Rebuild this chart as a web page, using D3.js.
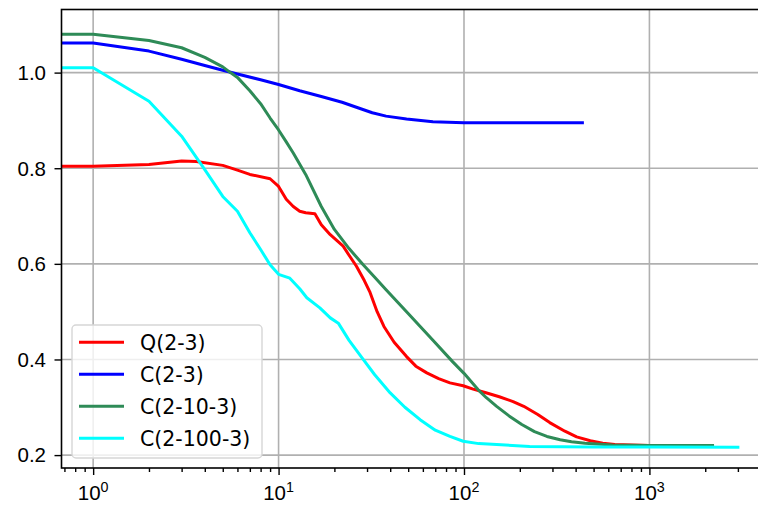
<!DOCTYPE html>
<html>
<head>
<meta charset="utf-8">
<script src="https://cdn.jsdelivr.net/npm/d3@7"></script>
<style>
  body { margin: 0; background: #fff; }
  svg { display: block; font-family: "DejaVu Sans", sans-serif; }
</style>
</head>
<body>
<script>
// series values, [x, y]
var q23 = [[0.5,0.804],[1,0.804],[2,0.808],[3,0.815],[3.6,0.814],[5,0.806],[6,0.796],[7,0.787],[9,0.778],[10,0.762],
  [11,0.735],[12,0.72],[13,0.71],[14,0.707],[15.7,0.705],[17,0.682],[19,0.661],[22.3,0.637],[24,0.618],[26.3,0.595],
  [29,0.565],[31,0.542],[34,0.5],[37,0.469],[42,0.436],[49,0.406],[55,0.386],[63,0.372],[73,0.36],[84,0.351],
  [99,0.345],[112,0.338],[130,0.331],[155,0.322],[184,0.312],[210,0.302],[250,0.285],[290,0.268],[350,0.25],
  [405,0.238],[480,0.23],[560,0.225],[650,0.222],[800,0.221],[1000,0.22],[1300,0.219]];

var c23 = [[0.5,1.062],[1,1.062],[2,1.045],[3,1.028],[4,1.015],[5,1.005],[6,0.997],[8,0.985],[10,0.975],[13,0.962],
  [17,0.95],[22,0.938],[27,0.926],[32,0.916],[38,0.909],[49,0.903],[68,0.897],[100,0.895],[200,0.895],[435,0.895]];

var c2103 = [[0.5,1.08],[1,1.08],[2,1.067],[3,1.052],[4,1.032],[5,1.012],[5.5,1.0],[6,0.99],[7,0.962],[8,0.935],
  [9,0.905],[10,0.88],[11,0.855],[12,0.832],[14,0.787],[17,0.72],[20,0.672],[24,0.632],[28.6,0.598],[33,0.572],
  [38,0.546],[50,0.496],[68,0.44],[87,0.395],[100,0.371],[119,0.337],[132,0.32],[150,0.302],[175,0.282],[205,0.264],
  [240,0.249],[280,0.239],[330,0.232],[380,0.228],[450,0.225],[630,0.221],[1000,0.22],[2190,0.22]];

var c21003 = [[0.5,1.01],[1,1.01],[2,0.94],[3,0.867],[4,0.797],[5,0.741],[6,0.71],[7,0.665],[8,0.63],[9,0.598],
  [10,0.578],[11.5,0.57],[13,0.548],[14.2,0.529],[16.7,0.508],[19,0.487],[21,0.476],[24,0.44],[28.6,0.4],[33,0.368],
  [40,0.33],[48,0.3],[58,0.274],[70,0.252],[84,0.239],[99,0.229],[120,0.224],[150,0.222],[226,0.218],[500,0.217],
  [1000,0.217],[3000,0.2165]];

var seriesNames = ['Q(2-3)', 'C(2-3)', 'C(2-10-3)', 'C(2-100-3)'];
var seriesData = [q23, c23, c2103, c21003];
var seriesColors = ['#ff0000', '#0000ff', '#2e8b57', '#00ffff'];

var xMajor = [1, 10, 100, 1000];
var xExp = ['0', '1', '2', '3'];
var yTicks = [0.2, 0.4, 0.6, 0.8, 1.0];
var yLabels = ['0.2', '0.4', '0.6', '0.8', '1.0'];

var width = 758, height = 505;
var plotL = 61.5, plotT = 9.5, plotR = 770, plotB = 468;
var fontSize = 20.5;

var svg = d3.select('body').append('svg').attr('width', width).attr('height', height);

var x = d3.scaleLog().domain([0.675, 4470]).range([plotL, plotR]);
var y = d3.scaleLinear().domain([0.173, 1.132]).range([plotB, plotT]);

svg.append('clipPath').attr('id', 'plot')
  .append('rect').attr('x', plotL).attr('y', plotT).attr('width', plotR - plotL).attr('height', plotB - plotT);

// grid
svg.append('g').selectAll('line').data(xMajor).enter().append('line')
  .attr('x1', d => x(d)).attr('x2', d => x(d)).attr('y1', plotT).attr('y2', plotB)
  .attr('stroke', '#b0b0b0').attr('stroke-width', 1.6);
svg.append('g').selectAll('line').data(yTicks).enter().append('line')
  .attr('x1', plotL).attr('x2', plotR).attr('y1', d => y(d)).attr('y2', d => y(d))
  .attr('stroke', '#b0b0b0').attr('stroke-width', 1.6);

// lines
var line = d3.line().x(d => x(d[0])).y(d => y(d[1]));
svg.append('g').attr('clip-path', 'url(#plot)').selectAll('path')
  .data(seriesData).enter().append('path')
    .attr('d', line)
    .attr('fill', 'none')
    .attr('stroke', (d, i) => seriesColors[i])
    .attr('stroke-width', 3)
    .attr('stroke-linejoin', 'round')
    .attr('stroke-linecap', 'square');

// axes
var xMinor = [];
[0.1, 1, 10, 100, 1000].forEach(function (dec) {
  for (var k = 2; k <= 9; k++) {
    var v = dec * k;
    if (v > 0.675 && v < 4470) xMinor.push(v);
  }
});

var gx = svg.append('g').attr('transform', 'translate(0,' + plotB + ')');
gx.call(d3.axisBottom(x).tickValues(xMajor).tickSize(7).tickFormat(''));
gx.append('g').call(d3.axisBottom(x).tickValues(xMinor).tickSize(4).tickFormat(''));
gx.selectAll('.domain').remove();
gx.selectAll('line').attr('stroke', '#000').attr('stroke-width', 1.4);

var xl = gx.append('g').selectAll('text').data(xMajor).enter().append('text')
  .attr('x', d => x(d))
  .attr('y', 32)
  .attr('text-anchor', 'middle')
  .attr('fill', '#000')
  .attr('font-size', fontSize);
xl.append('tspan').text('10');
xl.append('tspan').attr('dy', -8.5).attr('font-size', 14.3).text((d, i) => xExp[i]);

var gy = svg.append('g').attr('transform', 'translate(' + plotL + ',0)');
gy.call(d3.axisLeft(y).tickValues(yTicks).tickSize(7).tickFormat(''));
gy.selectAll('.domain').remove();
gy.selectAll('line').attr('stroke', '#000').attr('stroke-width', 1.4);
gy.append('g').selectAll('text').data(yTicks).enter().append('text')
  .attr('x', -15.5)
  .attr('y', d => y(d))
  .attr('dy', '0.36em')
  .attr('text-anchor', 'end')
  .attr('fill', '#000')
  .attr('font-size', fontSize)
  .text((d, i) => yLabels[i]);

// spines
svg.append('rect')
  .attr('x', plotL).attr('y', plotT).attr('width', plotR - plotL).attr('height', plotB - plotT)
  .attr('fill', 'none').attr('stroke', '#000').attr('stroke-width', 1.6);

// legend
var legend = svg.append('g').attr('transform', 'translate(72,325)');
legend.append('rect')
  .attr('width', 190).attr('height', 133).attr('rx', 4)
  .attr('fill', '#fff').attr('fill-opacity', 0.8)
  .attr('stroke', '#d6d6d6').attr('stroke-width', 1.4);
var rows = legend.selectAll('g.row').data(seriesNames).enter().append('g')
  .attr('class', 'row')
  .attr('transform', (d, i) => 'translate(0,' + (17.3 + i * 32) + ')');
rows.append('line')
  .attr('x1', 7).attr('x2', 52)
  .attr('stroke', (d, i) => seriesColors[i]).attr('stroke-width', 3);
rows.append('text')
  .attr('x', 68).attr('dy', '0.36em')
  .attr('font-size', fontSize).attr('fill', '#000')
  .text(d => d);
</script>
</body>
</html>
